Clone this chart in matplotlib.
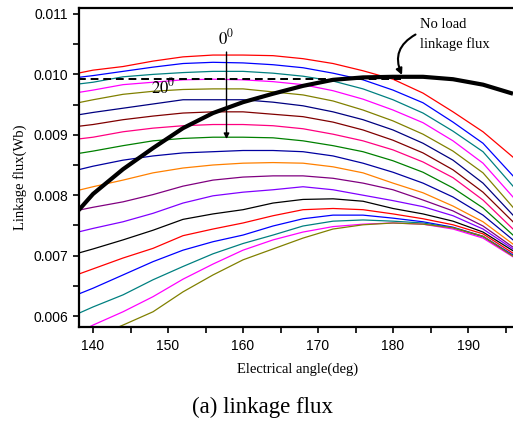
import numpy as np
import matplotlib.pyplot as plt

plt.rcParams['mathtext.fontset'] = 'stix'

# electrical angle samples (deg)
angle = [138, 140, 144, 148, 152, 156, 160, 164, 168, 172, 176, 180, 184, 188, 192, 196]

# loaded linkage flux curves (Wb), top to bottom at the left edge
flux = [
    [0.01002, 0.01007, 0.01013, 0.01022, 0.01029, 0.01032, 0.01032, 0.01031, 0.01026, 0.01018, 0.01006, 0.00992, 0.00969, 0.00938, 0.00905, 0.00863],
    [0.00995, 0.00998, 0.01005, 0.01012, 0.01018, 0.01020, 0.01019, 0.01016, 0.01011, 0.01002, 0.00991, 0.00974, 0.00953, 0.00921, 0.00886, 0.00832],
    [0.00984, 0.00987, 0.00996, 0.01000, 0.01003, 0.01005, 0.01005, 0.01002, 0.00997, 0.00989, 0.00976, 0.00958, 0.00936, 0.00906, 0.00872, 0.00815],
    [0.00970, 0.00974, 0.00983, 0.00987, 0.00991, 0.00992, 0.00991, 0.00988, 0.00983, 0.00973, 0.00959, 0.00941, 0.00920, 0.00890, 0.00853, 0.00797],
    [0.00953, 0.00958, 0.00967, 0.00972, 0.00975, 0.00976, 0.00976, 0.00971, 0.00966, 0.00956, 0.00941, 0.00923, 0.00901, 0.00873, 0.00837, 0.00780],
    [0.00933, 0.00937, 0.00944, 0.00951, 0.00958, 0.00958, 0.00958, 0.00954, 0.00948, 0.00938, 0.00925, 0.00908, 0.00886, 0.00858, 0.00820, 0.00767],
    [0.00914, 0.00917, 0.00925, 0.00931, 0.00936, 0.00938, 0.00938, 0.00934, 0.00930, 0.00921, 0.00908, 0.00891, 0.00870, 0.00842, 0.00805, 0.00756],
    [0.00893, 0.00896, 0.00905, 0.00911, 0.00915, 0.00917, 0.00917, 0.00915, 0.00910, 0.00901, 0.00890, 0.00875, 0.00855, 0.00829, 0.00792, 0.00744],
    [0.00869, 0.00873, 0.00882, 0.00890, 0.00894, 0.00896, 0.00896, 0.00895, 0.00890, 0.00882, 0.00872, 0.00857, 0.00838, 0.00812, 0.00779, 0.00734],
    [0.00842, 0.00848, 0.00858, 0.00865, 0.00870, 0.00872, 0.00874, 0.00874, 0.00872, 0.00865, 0.00853, 0.00838, 0.00820, 0.00797, 0.00767, 0.00726],
    [0.00808, 0.00814, 0.00825, 0.00837, 0.00845, 0.00850, 0.00853, 0.00854, 0.00853, 0.00847, 0.00837, 0.00820, 0.00804, 0.00782, 0.00756, 0.00719],
    [0.00775, 0.00780, 0.00789, 0.00801, 0.00815, 0.00825, 0.00830, 0.00832, 0.00832, 0.00828, 0.00820, 0.00809, 0.00792, 0.00774, 0.00749, 0.00714],
    [0.00739, 0.00745, 0.00756, 0.00770, 0.00787, 0.00799, 0.00805, 0.00809, 0.00814, 0.00809, 0.00800, 0.00791, 0.00781, 0.00766, 0.00744, 0.00711],
    [0.00704, 0.00711, 0.00726, 0.00742, 0.00760, 0.00769, 0.00776, 0.00787, 0.00793, 0.00794, 0.00790, 0.00778, 0.00769, 0.00757, 0.00739, 0.00708],
    [0.00669, 0.00678, 0.00696, 0.00712, 0.00733, 0.00744, 0.00754, 0.00766, 0.00776, 0.00778, 0.00776, 0.00769, 0.00761, 0.00751, 0.00736, 0.00704],
    [0.00636, 0.00646, 0.00668, 0.00690, 0.00709, 0.00723, 0.00734, 0.00749, 0.00761, 0.00767, 0.00767, 0.00762, 0.00756, 0.00747, 0.00732, 0.00701],
    [0.00604, 0.00615, 0.00635, 0.00660, 0.00682, 0.00703, 0.00720, 0.00734, 0.00749, 0.00757, 0.00759, 0.00757, 0.00754, 0.00746, 0.00731, 0.00699],
    [0.00572, 0.00585, 0.00607, 0.00632, 0.00661, 0.00686, 0.00709, 0.00726, 0.00739, 0.00748, 0.00752, 0.00754, 0.00752, 0.00744, 0.00729, 0.00698],
    [0.00552, 0.00564, 0.00585, 0.00607, 0.00640, 0.00668, 0.00693, 0.00711, 0.00729, 0.00744, 0.00751, 0.00754, 0.00752, 0.00746, 0.00732, 0.00699],
]
colors = ['#FF0000', '#0000FF', '#008080', '#FF00FF', '#808000', '#000080',
          '#800000', '#FF0080', '#008000', '#0000A0', '#FF8000', '#800080',
          '#8000FF', '#000000', '#FF0000', '#0000FF', '#008080', '#FF00FF',
          '#808000']

# no load linkage flux
noload = [0.00774, 0.00802, 0.00843, 0.00878, 0.00911, 0.00936, 0.00954, 0.00968,
          0.00981, 0.00991, 0.00995, 0.00996, 0.00996, 0.00992, 0.00983, 0.00968]

dash_level = 0.00993
dash_end = 181

fig = plt.figure(figsize=(5.13, 4.25), dpi=100)
ax = fig.add_axes([79 / 513, 98 / 425, 437 / 513, 319 / 425])

for ys, c in zip(flux, colors):
    ax.plot(angle, ys, color=c, lw=0.9)
ax.hlines(dash_level, angle[0], dash_end, colors='k', linestyles=(0, (4, 2.5)), lw=1.4)
ax.plot(angle, noload, color='k', lw=3.0, solid_capstyle='butt')

ax.set_xlim(138.13, 196.4)
ax.set_ylim(0.005818, 0.011099)
ax.set_xticks([140, 150, 160, 170, 180, 190])
ax.set_xticks(np.arange(145, 196, 10), minor=True)
ax.set_yticks([0.006, 0.007, 0.008, 0.009, 0.010, 0.011])
ax.set_yticks(np.arange(0.0065, 0.011, 0.001), minor=True)
ax.set_yticklabels(['0.006', '0.007', '0.008', '0.009', '0.010', '0.011'])

for s in ['left', 'bottom', 'top']:
    ax.spines[s].set_linewidth(1.6)
ax.spines['right'].set_visible(False)
ax.tick_params(which='both', direction='out', width=1.2, top=False, right=False,
               labelsize=10, labelfontfamily='Liberation Sans')
ax.tick_params(axis='x', which='major', length=4, pad=5)
ax.tick_params(axis='x', which='minor', length=4)
ax.tick_params(axis='y', which='major', length=4, pad=4)
ax.tick_params(axis='y', which='minor', length=4)

serif = 'Liberation Serif'
# angle arrow
ax.annotate('', xy=(157.8, 0.00893), xytext=(157.8, 0.01037),
            arrowprops=dict(arrowstyle='-|>', color='k', lw=1.0, mutation_scale=8,
                            shrinkA=0, shrinkB=0))
ax.text(157.8, 0.01059, r'$0^0$', fontsize=12, ha='center', va='center')
ax.text(149.3, 0.00978, r'$20^0$', fontsize=12, ha='center', va='center')

# no load label
ax.text(183.6, 0.01082, 'No load', fontsize=10.5, family=serif, ha='left', va='center')
ax.text(183.6, 0.01050, 'linkage flux', fontsize=10.5, family=serif, ha='left', va='center')
ax.annotate('', xy=(181.2, 0.00999), xytext=(183.0, 0.01066),
            arrowprops=dict(arrowstyle='-|>', color='k', lw=1.5, mutation_scale=9,
                            shrinkA=0, shrinkB=0,
                            connectionstyle='arc3,rad=0.45'))

fig.text(20 / 513, 1 - 177 / 425, 'Linkage flux(Wb)', rotation=90, fontsize=10.5,
         family=serif, ha='center', va='center')
fig.text(298 / 513, 1 - 369 / 425, 'Electrical angle(deg)', fontsize=10.5,
         family=serif, ha='center', va='center')
fig.text(263 / 513, 1 - 407 / 425, '(a) linkage flux', fontsize=16.5,
         family=serif, ha='center', va='center')

fig.savefig('out.png', dpi=100)
